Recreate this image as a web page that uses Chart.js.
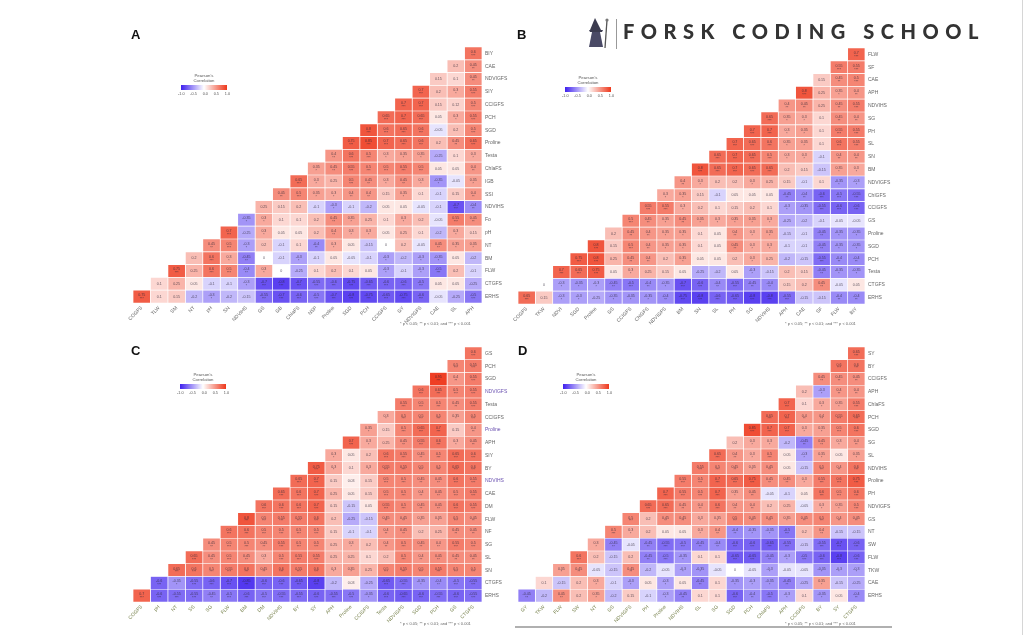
<!DOCTYPE html>
<html>
<head>
<meta charset="utf-8">
<script src="https://cdn.jsdelivr.net/npm/chart.js@4.4.1/dist/chart.umd.min.js"></script>
<style>
  html, body { margin: 0; padding: 0; background: #fff; }
  body { width: 1024px; height: 635px; position: relative; overflow: hidden; font-family: "Liberation Sans", Arial, sans-serif; }
  canvas { position: absolute; }
  .letter { position: absolute; font-weight: bold; font-size: 13px; color: #111; }
  .legend { position: absolute; width: 46px; text-align: center; color: #555; }
  .legend .ttl { font-size: 4.3px; line-height: 4.6px; }
  .legend .bar { height: 5px; margin-top: 2px; background: linear-gradient(to right, #3e20ee, #ffffff 50%, #ee381c); }
  .legend .tk { display: flex; justify-content: space-between; font-size: 3.8px; margin-top: 1.5px; width: 52px; margin-left: -3px; }
  .note { position: absolute; font-size: 4px; color: #666; white-space: nowrap; }
  #logoText { position: absolute; left: 623px; top: 19px; font-family: Lato, "Open Sans", sans-serif; font-weight: 900; font-size: 20px; color: #333; white-space: nowrap; }
</style>
</head>
<body>

<canvas id="chartA" width="432" height="293" style="left:100px; top:40px;"></canvas>
<canvas id="chartB" width="430" height="293" style="left:485px; top:41px;"></canvas>
<canvas id="chartC" width="432" height="292" style="left:100px; top:340px;"></canvas>
<canvas id="chartD" width="430" height="292" style="left:485px; top:340px;"></canvas>

<div class="letter" style="left:131px; top:27px;">A</div>
<div class="letter" style="left:517px; top:27px;">B</div>
<div class="letter" style="left:131px; top:343px;">C</div>
<div class="letter" style="left:518px; top:343px;">D</div>

<div class="legend" style="left:181px; top:74px;"><div class="ttl">Pearson's<br>Correlation</div><div class="bar"></div><div class="tk"><span>-1.0</span><span>-0.5</span><span>0.0</span><span>0.5</span><span>1.0</span></div></div>
<div class="legend" style="left:565px; top:76px;"><div class="ttl">Pearson's<br>Correlation</div><div class="bar"></div><div class="tk"><span>-1.0</span><span>-0.5</span><span>0.0</span><span>0.5</span><span>1.0</span></div></div>
<div class="legend" style="left:180px; top:373px;"><div class="ttl">Pearson's<br>Correlation</div><div class="bar"></div><div class="tk"><span>-1.0</span><span>-0.5</span><span>0.0</span><span>0.5</span><span>1.0</span></div></div>
<div class="legend" style="left:563px; top:373px;"><div class="ttl">Pearson's<br>Correlation</div><div class="bar"></div><div class="tk"><span>-1.0</span><span>-0.5</span><span>0.0</span><span>0.5</span><span>1.0</span></div></div>

<div class="note" style="left:400px; top:321px;">* p &lt; 0.05; ** p &lt; 0.01; and *** p &lt; 0.001</div>
<div class="note" style="left:785px; top:321px;">* p &lt; 0.05; ** p &lt; 0.01; and *** p &lt; 0.001</div>
<div class="note" style="left:400px; top:621px;">* p &lt; 0.05; ** p &lt; 0.01; and *** p &lt; 0.001</div>
<div class="note" style="left:785px; top:621px;">* p &lt; 0.05; ** p &lt; 0.01; and *** p &lt; 0.001</div>

<!-- logo -->
<svg style="position:absolute; left:586px; top:16px;" width="30" height="34" viewBox="0 0 30 34">
  <path d="M9 2 L4 14 L15 14 Z" fill="#3b3b4f"/>
  <path d="M3 14 L17 14 L16 16 L4 16 Z" fill="#3b3b4f"/>
  <path d="M6 16 L14 16 L17 31 L3 31 Z" fill="#4a4a66"/>
  <line x1="21" y1="4" x2="19" y2="32" stroke="#555" stroke-width="1.3"/>
  <circle cx="21" cy="4" r="1.6" fill="#777"/>
</svg>
<div style="position:absolute; left:616px; top:19px; width:1px; height:30px; background:#999;"></div>
<div id="logoText">FORSK CODING SCHOOL</div>

<div style="position:absolute; left:1022px; top:0; width:1px; height:635px; background:#d6d6d6;"></div>
<div style="position:absolute; left:515px; top:626px; width:377px; height:1.5px; background:#b0b0b0;"></div>

<script>
// ---- panel A ----
const rowsA = ['BIY', 'CAE', 'NDVIGFS', 'SIY', 'CCIGFS', 'PCH', 'SGD', 'Proline', 'Testa', 'ChlaFS',
  'IGB', 'SSI', 'NDVIHS', 'Fo', 'pH', 'NT', 'BM', 'FLW', 'CTGFS', 'ERHS'];
const colsA = ['COGFS', 'TLW', 'SM', 'NT', 'pH', 'SN', 'NDVIHS', 'GS', 'GB', 'ChlaFS',
  'NSP', 'Proline', 'SGD', 'PCH', 'CCIGFS', 'GY', 'NDVIGFS', 'CAE', 'SL', 'APH'];
const valuesA = [
  [0.6],
  [0.2, 0.45],
  [0.15, 0.1, 0.45],
  [0.7, 0.2, 0.3, 0.55],
  [0.7, 0.7, 0.15, 0.12, 0.5],
  [0.65, 0.7, 0.65, 0.05, 0.3, 0.55],
  [0.8, 0.6, 0.65, 0.6, -0.05, 0.2, 0.5],
  [0.75, 0.85, 0.7, 0.65, 0.6, 0.2, 0.45, 0.65],
  [0.4, 0.6, 0.5, 0.3, 0.35, 0.35, -0.25, 0.1, 0.3],
  [0.35, 0.45, 0.55, 0.5, 0.5, 0.55, 0.5, 0.05, 0.05, 0.4],
  [0.65, 0.3, 0.25, 0.5, 0.45, 0.3, 0.45, 0.3, -0.35, -0.05, 0.35],
  [0.45, 0.5, 0.35, 0.3, 0.4, 0.4, 0.15, 0.35, 0.1, -0.1, 0.15, 0.4],
  [0.25, 0.15, 0.2, -0.1, -0.3, -0.1, -0.2, 0.05, 0.05, -0.05, -0.1, -0.7, -0.4],
  [-0.35, 0.3, 0.1, 0.1, 0.2, 0.45, 0.35, 0.25, 0.1, 0.3, 0.2, -0.05, 0.55, 0.45],
  [0.7, -0.25, 0.3, 0.05, 0.05, 0.2, 0.4, 0.3, 0.3, 0.05, 0.25, 0.1, -0.2, 0.3, 0.15],
  [0.45, 0.5, -0.3, 0.2, -0.1, 0.1, -0.4, 0.3, 0.05, -0.15, 0, 0.2, -0.05, 0.45, 0.35, 0.35],
  [0.2, 0.6, 0.3, -0.45, 0, -0.1, -0.3, -0.1, 0.05, -0.05, -0.1, -0.3, -0.2, -0.3, -0.35, 0.05, -0.2],
  [0.75, 0.25, 0.6, 0.5, -0.4, 0.3, 0, -0.25, 0.1, 0.2, 0.1, 0.05, -0.3, -0.1, -0.3, -0.5, 0.2, -0.1],
  [0.1, 0.25, 0.05, -0.1, -0.1, -0.3, -0.7, -0.8, -0.7, -0.55, -0.6, -0.75, -0.65, -0.6, -0.6, -0.5, 0.05, 0.05, -0.25],
  [0.75, 0.1, 0.15, -0.2, -0.3, -0.2, -0.15, -0.55, -0.7, -0.6, -0.5, -0.7, -0.8, -0.75, -0.65, -0.75, -0.6, -0.05, -0.25, -0.5]
];

// ---- panel B ----
const rowsB = ['FLW', 'SF', 'CAE', 'APH', 'NDVIHS', 'SG', 'PH', 'SL', 'SN', 'BM',
  'NDVIGFS', 'ChlGFS', 'CCIGFS', 'GS', 'Proline', 'SGD', 'PCH', 'Testa', 'CTGFS', 'ERHS'];
const colsB = ['COGFS', 'TKW', 'NDVI', 'SGD', 'Proline', 'GS', 'CCIGFS', 'ChlGFS', 'NDVIGFS', 'BM',
  'SN', 'SL', 'PH', 'SG', 'NDVIHS', 'APH', 'CAE', 'SF', 'FLW', 'BIY'];
const valuesB = [
  [0.7],
  [0.55, 0.55],
  [0.15, 0.45, 0.5],
  [0.8, 0.25, 0.35, 0.4],
  [0.4, 0.45, 0.25, 0.45, 0.55],
  [0.65, 0.35, 0.3, 0.1, 0.45, 0.4],
  [0.7, 0.7, 0.3, 0.35, 0.1, 0.55, 0.55],
  [0.7, 0.65, 0.6, 0.35, 0.35, 0.1, 0.6, 0.55],
  [0.65, 0.7, 0.65, 0.5, 0.3, 0.3, -0.1, 0.4, 0.4],
  [0.8, 0.65, 0.7, 0.65, 0.65, 0.2, 0.15, -0.15, 0.35, 0.3],
  [0.4, 0.3, 0.2, 0.2, 0.3, 0.25, 0.15, -0.1, 0.1, -0.35, -0.3],
  [0.3, 0.35, 0.15, -0.1, 0.05, 0.05, 0.05, -0.45, -0.4, -0.6, -0.5, -0.55],
  [0.55, 0.55, 0.3, 0.2, 0.1, 0.15, 0.2, 0.1, -0.3, -0.35, -0.55, -0.6, -0.6],
  [0.5, 0.45, 0.35, 0.45, 0.35, 0.3, 0.35, 0.35, 0.3, -0.25, -0.2, -0.1, -0.05, -0.05],
  [0.2, 0.45, 0.4, 0.35, 0.35, 0.1, 0.05, 0.4, 0.3, 0.35, -0.15, -0.1, -0.45, -0.35, -0.35],
  [0.8, 0.15, 0.5, 0.4, 0.35, 0.35, 0.1, 0.05, 0.45, 0.3, 0.3, -0.1, -0.1, -0.45, -0.35, -0.35],
  [0.75, 0.8, 0.25, 0.45, 0.4, 0.2, 0.35, 0.05, 0.05, 0.2, 0.3, 0.25, -0.2, -0.15, -0.55, -0.4, -0.4],
  [0.7, 0.65, 0.75, 0.05, 0.3, 0.25, 0.15, 0.05, -0.25, -0.2, 0.05, -0.3, -0.15, 0.2, 0.15, -0.45, -0.35, -0.35],
  [0, -0.3, -0.35, -0.3, -0.45, -0.5, -0.4, -0.35, -0.7, -0.6, -0.4, -0.55, -0.45, -0.4, 0.15, 0.2, 0.45, -0.05, 0.05],
  [0.65, 0.15, -0.3, -0.3, -0.25, -0.35, -0.35, -0.35, -0.4, -0.75, -0.8, -0.6, -0.65, -0.8, -0.8, -0.55, -0.15, -0.15, -0.4, -0.4]
];

// ---- panel C ----
const rowsC = ['GS', 'PCH', 'SGD', 'NDVIGFS', 'Testa', 'CCIGFS', 'Proline', 'APH', 'SIY', 'BY',
  'NDVIHS', 'CAE', 'DM', 'FLW', 'NF', 'SG', 'SL', 'SN', 'CTGFS', 'ERHS'];
const colsC = ['COGFS', 'pH', 'NT', 'SS', 'SG', 'FLW', 'BM', 'DM', 'NDVIHS', 'BY',
  'SY', 'APH', 'Proline', 'CCIGFS', 'Testa', 'NDVIGFS', 'SGD', 'PCH', 'GS', 'CTGFS'];
const valuesC = [
  [0.6],
  [0.5, 0.55],
  [0.95, 0.4, 0.55],
  [0.6, 0.65, 0.5, 0.55],
  [0.55, 0.5, 0.5, 0.45, 0.55],
  [0.3, 0.5, 0.5, 0.5, 0.35, 0.5],
  [0.35, 0.15, 0.5, 0.65, 0.7, 0.15, 0.4],
  [0.7, 0.3, 0.25, 0.45, 0.55, 0.6, 0.3, 0.45],
  [0.3, 0.05, 0.2, 0.6, 0.55, 0.45, 0.5, 0.65, 0.6],
  [0.75, 0.3, 0.1, 0.3, 0.55, 0.55, 0.5, 0.5, 0.65, 0.6],
  [0.65, 0.7, 0.15, 0.03, 0.15, 0.5, 0.5, 0.45, 0.45, 0.6, 0.55],
  [0.65, 0.6, 0.7, 0.25, 0.05, 0.15, 0.5, 0.5, 0.4, 0.45, 0.5, 0.55],
  [0.6, 0.6, 0.6, 0.7, 0.15, -0.15, 0.05, 0.55, 0.5, 0.45, 0.45, 0.6, 0.55],
  [0.8, 0.5, 0.55, 0.55, 0.6, 0.2, -0.25, -0.15, 0.45, 0.45, 0.35, 0.35, 0.5, 0.45],
  [0.6, 0.6, 0.5, 0.5, 0.5, 0.5, 0.15, -0.1, -0.1, 0.4, 0.45, 0.2, 0.25, 0.45, 0.45],
  [0.45, 0.5, 0.5, 0.45, 0.55, 0.5, 0.5, 0.25, 0.3, 0.2, 0.4, 0.5, 0.45, 0.4, 0.55, 0.5],
  [0.65, 0.45, 0.5, 0.45, 0.3, 0.5, 0.55, 0.55, 0.25, 0.25, 0.1, 0.2, 0.5, 0.4, 0.45, 0.45, 0.45],
  [0.65, 0.6, 0.5, 0.55, 0.6, 0.45, 0.6, 0.55, 0.6, 0.3, 0.35, 0.25, 0.5, 0.55, 0.5, 0.55, 0.5, 0.5],
  [-0.6, -0.35, -0.55, -0.6, -0.7, -0.85, -0.6, -0.6, -0.65, -0.8, -0.2, 0.03, -0.25, -0.65, -0.55, -0.35, -0.4, -0.5, -0.55],
  [0.7, -0.6, -0.55, -0.55, -0.45, -0.5, -0.6, -0.5, -0.55, -0.55, -0.6, -0.55, -0.5, -0.35, -0.6, -0.65, -0.6, -0.55, -0.6, -0.55]
];

// ---- panel D ----
const rowsD = ['SY', 'BY', 'CCIGFS', 'APH', 'ChlaFS', 'PCH', 'SGD', 'SG', 'SL', 'NDVIHS',
  'Proline', 'PH', 'NDVIGFS', 'GS', 'NT', 'SW', 'FLW', 'TKW', 'CAE', 'ERHS'];
const colsD = ['GY', 'TKW', 'FLW', 'SW', 'NT', 'GS', 'NDVIGFS', 'PH', 'Proline', 'NDVIHS',
  'SL', 'SG', 'SGD', 'PCH', 'ChlaFS', 'APH', 'CCIGFS', 'BY', 'SY', 'CTGFS'];
const valuesD = [
  [0.65],
  [0.6, 0.6],
  [0.45, 0.45, 0.45],
  [0.2, -0.3, 0.4, 0.4],
  [0.7, 0.1, 0.3, 0.35, 0.55],
  [0.65, 0.7, 0.4, 0.4, 0.55, 0.65],
  [0.85, 0.7, 0.7, 0.3, 0.35, 0.5, 0.6],
  [0.2, 0.3, 0.3, -0.2, -0.45, 0.45, 0.3, 0.4],
  [0.65, 0.4, 0.3, 0.5, 0.05, -0.3, 0.35, 0.05, 0.35],
  [0.55, 0.5, 0.45, 0.35, 0.45, 0.05, -0.15, 0.5, 0.4, 0.6],
  [0.55, 0.5, 0.7, 0.65, 0.75, 0.45, 0.45, 0.3, 0.55, 0.6, 0.75],
  [0.7, 0.55, 0.5, 0.7, 0.35, 0.45, -0.05, -0.1, 0.05, 0.6, 0.5, 0.6],
  [0.65, 0.65, 0.45, 0.4, 0.6, 0.4, 0.4, 0.2, 0.25, -0.05, 0.3, 0.35, 0.5],
  [0.5, 0.2, 0.45, 0.45, 0.3, 0.35, 0.5, 0.45, 0.45, 0.35, 0.45, 0.5, 0.4, 0.45],
  [0.5, 0.3, 0.2, 0.05, 0.05, 0.3, 0.4, -0.4, -0.35, -0.35, -0.5, 0.2, 0.4, -0.15, -0.15],
  [0.3, -0.45, -0.05, -0.45, -0.55, -0.5, -0.45, -0.4, -0.6, -0.6, -0.65, -0.55, -0.15, -0.55, -0.7, -0.6],
  [0.6, 0.2, -0.15, 0.2, -0.45, -0.5, -0.35, 0.1, 0.1, -0.65, -0.65, -0.45, -0.3, -0.5, -0.6, -0.8, -0.6],
  [0.35, 0.45, -0.05, -0.15, 0.45, -0.2, -0.05, -0.3, -0.35, -0.05, 0, -0.05, -0.3, -0.05, -0.05, -0.35, -0.3, -0.3],
  [0.1, -0.15, 0.2, 0.3, -0.1, -0.3, 0.05, -0.3, 0.05, -0.45, 0.1, -0.35, -0.3, -0.35, -0.45, -0.25, 0.35, -0.15, -0.25],
  [-0.45, -0.2, 0.45, 0.2, 0.35, -0.2, 0.15, -0.1, -0.3, -0.45, 0.1, 0.1, -0.6, -0.4, -0.5, -0.3, 0.1, -0.35, 0.05, -0.4]
];

// couleur divergente bleu - blanc - rouge
function cellColor(v) {
  const t = Math.pow(Math.min(Math.abs(v), 1), 0.7);
  const end = v < 0 ? [62, 32, 238] : [238, 56, 28];
  const c = end.map((e) => Math.round(255 + (e - 255) * t));
  return `rgb(${c[0]},${c[1]},${c[2]})`;
}

// valeur de la cellule (ligne i, colonne j) dans le triangle
function cellValue(values, i, j) {
  const n = values.length;
  const k = j - (n - 1 - i);
  return k >= 0 ? values[i][k] : null;
}

function stars(v) {
  const a = Math.abs(v);
  if (a >= 0.5) return '***';
  if (a >= 0.4) return '**';
  if (a >= 0.3) return '*';
  return '';
}

// plugin pour écrire les coefficients dans chaque cellule
function cellTextPlugin(values) {
  return {
    id: 'cellText',
    afterDatasetsDraw(chart) {
      const ctx = chart.ctx;
      ctx.save();
      ctx.textAlign = 'center';
      ctx.textBaseline = 'middle';
      ctx.fillStyle = 'rgba(45,40,55,0.75)';
      chart.data.datasets.forEach((ds, j) => {
        const meta = chart.getDatasetMeta(j);
        meta.data.forEach((bar, i) => {
          const v = cellValue(values, i, j);
          if (v === null) return;
          const cx = (bar.x + bar.base) / 2;
          const s = stars(v);
          ctx.font = '3.6px "Liberation Sans", Arial, sans-serif';
          ctx.fillText(String(Math.round(v * 100) / 100), cx, s ? bar.y - 1.6 : bar.y);
          if (s) {
            ctx.font = '3.4px "Liberation Sans", Arial, sans-serif';
            ctx.fillText(s, cx, bar.y + 2.4);
          }
        });
      });
      ctx.restore();
    },
  };
}

function buildPanel(id, rows, cols, values, colColor, rowColor) {
  const n = cols.length;
  const datasets = cols.map((c, j) => ({
    label: c,
    data: rows.map((r, i) => (cellValue(values, i, j) !== null ? [j - 0.5, j + 0.5] : null)),
    backgroundColor: (ctx) => cellColor(cellValue(values, ctx.dataIndex, j) || 0),
    borderColor: '#ffffff',
    borderWidth: 0.7,
    borderSkipped: false,
    grouped: false,
    barPercentage: 1,
    categoryPercentage: 1,
  }));

  new Chart(document.getElementById(id), {
    type: 'bar',
    data: { labels: rows, datasets: datasets },
    options: {
      indexAxis: 'y',
      responsive: false,
      animation: false,
      layout: { padding: { left: 33, top: 7, right: 0, bottom: 0 } },
      plugins: { legend: { display: false }, tooltip: { enabled: false } },
      scales: {
        x: {
          type: 'linear',
          min: -0.5,
          max: n - 0.5,
          grid: { display: false, drawTicks: false },
          border: { display: false },
          afterBuildTicks: (scale) => {
            scale.ticks = cols.map((c, k) => ({ value: k }));
          },
          afterFit: (scale) => {
            scale.height = 30;
          },
          ticks: {
            autoSkip: false,
            maxRotation: 45,
            minRotation: 45,
            padding: 2,
            font: { size: 5, family: '"Liberation Sans", Arial, sans-serif' },
            color: colColor,
            callback: (value, index) => cols[index],
          },
        },
        y: {
          position: 'right',
          grid: { display: false, drawTicks: false },
          border: { display: false },
          afterFit: (scale) => {
            scale.width = 50;
          },
          ticks: {
            padding: 3,
            font: { size: 5, family: '"Liberation Sans", Arial, sans-serif' },
            color: rowColor,
          },
        },
      },
    },
    plugins: [cellTextPlugin(values)],
  });
}

const purpleRowsC = ['NDVIGFS', 'Proline', 'NDVIHS'];

buildPanel('chartA', rowsA, colsA, valuesA, '#666', '#666');
buildPanel('chartB', rowsB, colsB, valuesB, '#666', '#666');
buildPanel('chartC', rowsC, colsC, valuesC, '#7a8450',
  (ctx) => (purpleRowsC.includes(rowsC[ctx.index]) ? '#6a50b0' : '#666'));
buildPanel('chartD', rowsD, colsD, valuesD, '#7a8450', '#666');

// ajuster l'espacement du logo pour la largeur voulue
const logo = document.getElementById('logoText');
const w = logo.getBoundingClientRect().width;
logo.style.letterSpacing = ((362 - w) / logo.textContent.length) + 'px';
</script>
</body>
</html>
